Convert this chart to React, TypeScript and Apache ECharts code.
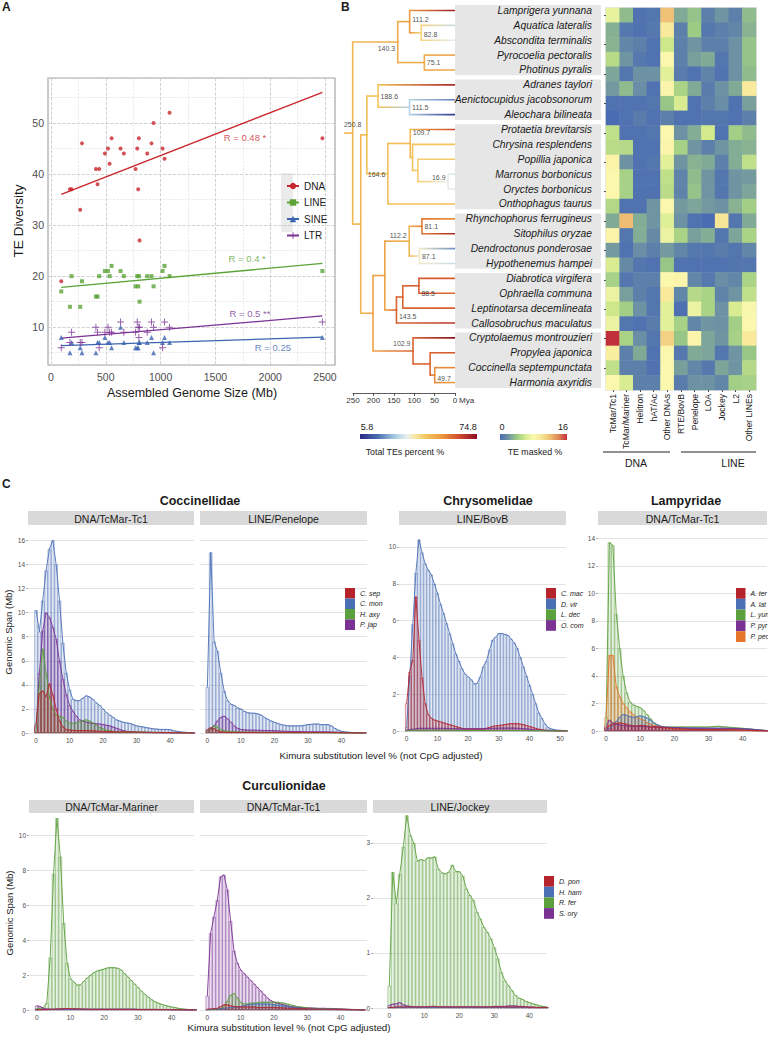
import React, { useEffect, useRef } from "react";
import * as echarts from "echarts";

const FONT = '"Liberation Sans", Arial, Helvetica, sans-serif';

// ================= Panel A : TE diversity vs genome size =================
const genomeSize = [94, 173, 188, 267, 283, 410, 425, 440, 492, 520, 535, 553, 635, 665, 772, 787, 796, 802, 808, 878, 917, 936, 1018, 1036, 1082, 2476];
const dnaDiversity = [19, 37, 37, 33, 46, 41, 38, 41, 44, 45, 42, 47, 45, 44, 41, 45, 37, 47, 27, 44, 46, 50, 45, 43, 52, 47];
const lineDiversity = [17, 14, 20, 14, 19, 16, 16, 20, 21, 21, 20, 22, 21, 20, 18, 20, 18, 20, 15, 20, 20, 18, 21, 22, 20, 21];
const sineDiversity = [8, 5, 7, 6, 5, 5, 7, 7, 8, 7, 7, 6, 10, 7, 6, 6, 6, 7, 7, 7, 8, 5, 7, 8, 7, 8];
const ltrDiversity = [6, 7, 9, 7, 7, 10, 9, 6, 9, 10, 9, 9, 11, 9, 9, 11, 10, 8, 10, 9, 11, 10, 6, 11, 10, 11];
const fitX = [94, 2476];
const dnaFit = [36.0, 56.0];
const lineFit = [17.8, 22.5];
const sineFit = [6.4, 8.05];
const ltrFit = [7.85, 12.2];
const corrLabels = ["R = 0.48 *", "R = 0.4 *", "R = 0.25", "R = 0.5 **"];

// ================= Panel B : tree + heatmap =================
const species = [
  "Lamprigera yunnana", "Aquatica lateralis", "Abscondita terminalis", "Pyrocoelia pectoralis", "Photinus pyralis",
  "Adranes taylori", "Aenictocupidus jacobsonorum", "Aleochara bilineata",
  "Protaetia brevitarsis", "Chrysina resplendens", "Popillia japonica", "Marronus borbonicus", "Oryctes borbonicus", "Onthophagus taurus",
  "Rhynchophorus ferrugineus", "Sitophilus oryzae", "Dendroctonus ponderosae", "Hypothenemus hampei",
  "Diabrotica virgifera", "Ophraella communa", "Leptinotarsa decemlineata", "Callosobruchus maculatus",
  "Cryptolaemus montrouzieri", "Propylea japonica", "Coccinella septempunctata", "Harmonia axyridis",
];
const speciesTE = [72, 30, 33, 52, 50, 70, 18, 8, 65, 45, 44, 31, 33, 47, 55, 70, 20, 30, 62, 60, 62, 68, 74, 62, 56, 53];
const speciesParent = [
  "n111.2", "n82.8", "n82.8", "n75.1", "n75.1",
  "n188.6", "n111.5", "n111.5",
  "n109.7", "nChr", "nPop", "n16.9", "n16.9", "n164.6",
  "n81.1", "n81.1", "n87.1", "n87.1",
  "n88.5", "n88.5", "n128", "n143.5",
  "n102.9", "n61", "n49.7", "n49.7",
];
// [node, parent, age (Mya), total TE %]
const internalNodes: [string, string | null, number, number][] = [
  ["root", null, 250.8, 48],
  ["n140.3", "root", 140.3, 50],
  ["n111.2", "n140.3", 111.2, 53],
  ["n82.8", "n111.2", 82.8, 42],
  ["n75.1", "n140.3", 75.1, 50],
  ["nY", "root", 231, 48],
  ["nX", "nY", 216, 46],
  ["n188.6", "nX", 188.6, 45],
  ["n111.5", "n188.6", 111.5, 28],
  ["n164.6", "nX", 164.6, 46],
  ["n109.7", "n164.6", 109.7, 47],
  ["nChr", "n109.7", 104, 45],
  ["nPop", "nChr", 91, 43],
  ["n16.9", "nPop", 16.9, 34],
  ["nZ", "nY", 201, 52],
  ["nW", "nZ", 172, 52],
  ["n112.2", "nW", 112.2, 48],
  ["n81.1", "n112.2", 81.1, 58],
  ["n87.1", "n112.2", 87.1, 36],
  ["n143.5", "nW", 143.5, 61],
  ["n128", "n143.5", 128, 61],
  ["n88.5", "n128", 88.5, 62],
  ["n102.9", "nZ", 102.9, 61],
  ["n61", "n102.9", 61, 61],
  ["n49.7", "n61", 49.7, 56],
];
const rootEdgeMya = 21;
const familyBoxes: [number, number][] = [[0, 4], [5, 7], [8, 13], [14, 17], [18, 21], [22, 25]];
const heatColumns = ["TcMar/Tc1", "TcMar/Mariner", "Helitron", "hAT/Ac", "Other DNAs", "RTE/BovB", "Penelope", "LOA", "Jockey", "L2", "Other LINEs"];
// TE masked % (rows follow species order, -1 = missing)
const teMasked = [
  [7, 3.4, 0.3, 0.5, 11.8, 2.8, 3.7, 1.0, 2.0, 1.0, 3.4],
  [3.0, 0.6, 0.3, 0.6, 9.5, 1.0, 4.0, 0.6, 1.0, 1.3, 3.1],
  [3.1, 1.3, 1.0, 0.3, 5.8, 1.0, 2.0, 1.0, 1.0, 1.9, 3.7],
  [5.0, 2.0, 0.6, 0.3, 8.2, 1.0, 2.4, 2.8, 0.5, 1.9, 3.7],
  [2.6, 0.5, 1.9, 1.9, 6.8, 0.8, 0.3, 1.2, 0.4, 1.9, 3.4],
  [2.2, 3.4, 1.7, 0.3, 8.4, 4.5, 2.8, 0.8, 1.9, 2.8, 9.6],
  [0.3, 0.3, 0.3, 0.5, 3.8, 6.3, 0.3, 1.0, 1.7, 0.3, 2.4],
  [-1, 0.3, 0.8, 0.3, 1.0, 0.3, 0.3, 0.5, 0.5, 0.3, 1.0],
  [5.3, 0.3, 0.3, 0.5, 8.2, 1.9, 2.9, 6.0, 0.3, 4.2, 3.4],
  [5.1, 4.9, 0.3, 0.3, 8.4, 4.4, 2.0, 1.0, 2.0, 2.9, 3.1],
  [8.6, 1.9, 0.3, 0.5, 6.8, 2.0, 3.1, 2.8, 1.0, 2.9, 5.3],
  [8.2, 4.4, 0.3, 0.3, 5.3, 1.2, 3.4, 2.0, 0.5, 2.0, 2.2],
  [8.2, 4.4, 0.3, 0.3, 5.1, 1.2, 3.7, 2.0, 0.5, 2.0, 2.6],
  [4.8, 0.3, 0.3, 2.0, 8.2, 2.2, 2.6, 2.2, 1.9, 3.1, 4.2],
  [2.8, 12, 2.9, 2.0, 6.6, 1.9, 0.3, -1, 10, 0.5, 2.8],
  [8.6, 0.5, 2.9, 1.5, 7.2, 4.5, 2.4, 2.9, 0.5, 2.6, 4.5],
  [2.2, 0.3, 1.7, 1.0, 2.2, 1.3, 0.6, 0.5, 0.8, 0.5, 1.3],
  [6.3, 1.5, 0.5, 0.3, 3.8, 0.3, 0.3, 0.3, 0.3, 0.5, 0.5],
  [4.4, 0.5, 1.0, 1.0, 8.2, 8.4, 1.3, 0.6, 1.7, 1.3, 4.5],
  [7.2, 2.4, 1.0, 0.5, 9.6, 1.3, 4.9, 4.5, 1.2, 2.0, 5.3],
  [5.8, 4.2, 1.9, 0.5, 6.8, 0.2, 7.2, 4.5, 1.9, 6.3, 7.8],
  [7.2, 0.5, 0.3, 0.8, 6.8, 4.4, 1.3, 2.0, 1.9, 4.2, 8.2],
  [16, 4.5, 1.7, 0.5, 11, 3.8, 8.4, 2.6, 2.0, 4.4, 9.6],
  [9.2, 1.0, 2.8, 0.3, 8.2, 0.6, 2.8, 2.6, 0.5, 2.0, 3.8],
  [5.3, 1.0, 1.0, 0.3, 8.2, 2.4, 1.3, 0.6, 2.6, 2.0, 4.9],
  [8.2, 6.3, 1.0, 1.0, 8.2, 0.8, 1.9, 1.9, 1.3, 4.2, 4.4],
];
const totalTERange = [5.8, 74.8];
const maskedRange = [0, 16];

// ================= Panel C : repeat landscapes (Kimura bins from 0) =================
const coccTc1_Csep = [0.7, 3.3, 3.5, 3.0, 4.1, 3.2, 2, 1, 0.5, 0.3, 0.25, 0.22, 0.2, 0.2, 0.2, 0.2, 0.2, 0.18, 0.16, 0.15, 0.14, 0.13, 0.12, 0.11, 0.1, 0.1, 0.1, 0.09, 0.09, 0.08, 0.08, 0.07, 0.07, 0.06, 0.06, 0.05, 0.05, 0.05, 0.04, 0.04, 0.04, 0.03, 0.03, 0.02, 0.02, 0.02, 0.01, 0.01];
const coccTc1_Cmon = [10.2, 8.4, 11, 13.5, 15.3, 16, 14, 11, 7.5, 5, 3.6, 2.8, 2.7, 2.7, 2.9, 3.1, 3.0, 2.8, 2.5, 2.3, 2.0, 1.7, 1.5, 1.3, 1.1, 1.0, 0.9, 0.85, 0.8, 0.7, 0.6, 0.55, 0.5, 0.45, 0.4, 0.35, 0.33, 0.3, 0.3, 0.3, 0.28, 0.2, 0.15, 0.1, 0.07, 0.05, 0.03, 0.02];
const coccTc1_Haxy = [0.2, 4, 7, 5, 3, 2, 1.5, 1.4, 1.3, 1.0, 0.85, 0.8, 0.85, 0.95, 1.05, 1.1, 1.0, 0.85, 0.65, 0.45, 0.35, 0.25, 0.2, 0.15, 0.12, 0.1, 0.1, 0.1, 0.1, 0.09, 0.08, 0.08, 0.07, 0.07, 0.06, 0.06, 0.05, 0.05, 0.05, 0.04, 0.04, 0.03, 0.03, 0.02, 0.02, 0.02, 0.01, 0.01];
const coccTc1_Pjap = [0.5, 5, 8.5, 10, 9.6, 8.8, 7.8, 6, 4.5, 3.2, 2.3, 1.8, 1.4, 1.1, 1.0, 0.9, 0.85, 0.8, 0.78, 0.75, 0.7, 0.65, 0.6, 0.5, 0.4, 0.3, 0.2, 0.15, 0.12, 0.1, 0.08, 0.07, 0.06, 0.05, 0.05, 0.04, 0.04, 0.03, 0.03, 0.03, 0.02, 0.02, 0.02, 0.01, 0.01, 0.01, 0.01, 0.01];

const coccPen_Csep = [0.3, 0.45, 0.35, 0.2, 0.1, 0.08, 0.06, 0.05, 0.05, 0.05, 0.05, 0.05, 0.05, 0.05, 0.05, 0.05, 0.05, 0.05, 0.05, 0.05, 0.05, 0.05, 0.05, 0.05, 0.05, 0.05, 0.05, 0.05, 0.05, 0.05, 0.05, 0.05, 0.05, 0.05, 0.05, 0.05, 0.05, 0.05, 0.04, 0.03, 0.03, 0.02, 0.02, 0.02, 0.01, 0.01, 0.01, 0.01];
const coccPen_Cmon = [3.8, 15, 7.6, 6.8, 5, 3.5, 2.7, 2.4, 2.3, 2.1, 2.0, 1.8, 1.7, 1.65, 1.65, 1.6, 1.5, 1.3, 1.15, 1.0, 0.9, 0.8, 0.7, 0.65, 0.6, 0.6, 0.6, 0.6, 0.6, 0.65, 0.7, 0.72, 0.75, 0.75, 0.7, 0.7, 0.7, 0.6, 0.4, 0.25, 0.15, 0.1, 0.07, 0.05, 0.03, 0.03, 0.03, 0.03];
const coccPen_Haxy = [0.2, 0.4, 0.6, 0.5, 0.3, 0.2, 0.15, 0.12, 0.1, 0.1, 0.09, 0.08, 0.08, 0.07, 0.07, 0.06, 0.06, 0.05, 0.05, 0.05, 0.05, 0.04, 0.04, 0.04, 0.04, 0.03, 0.03, 0.03, 0.03, 0.03, 0.03, 0.03, 0.03, 0.03, 0.03, 0.03, 0.02, 0.02, 0.02, 0.02, 0.02, 0.02, 0.01, 0.01, 0.01, 0.01, 0.01, 0.01];
const coccPen_Pjap = [0.2, 0.3, 0.6, 1.0, 1.3, 1.4, 1.2, 0.9, 0.6, 0.4, 0.3, 0.27, 0.25, 0.25, 0.24, 0.23, 0.22, 0.21, 0.2, 0.2, 0.2, 0.18, 0.16, 0.15, 0.14, 0.13, 0.12, 0.12, 0.11, 0.11, 0.1, 0.1, 0.1, 0.1, 0.1, 0.1, 0.09, 0.08, 0.07, 0.06, 0.05, 0.04, 0.03, 0.03, 0.02, 0.02, 0.02, 0.02];

const chrBovB_Cmac = [1.5, 3.2, 3.85, 7.3, 4.95, 2.9, 1.5, 0.9, 0.7, 0.6, 0.55, 0.5, 0.45, 0.4, 0.35, 0.3, 0.25, 0.2, 0.15, 0.12, 0.12, 0.12, 0.12, 0.12, 0.12, 0.12, 0.15, 0.2, 0.25, 0.28, 0.3, 0.32, 0.35, 0.38, 0.4, 0.4, 0.4, 0.38, 0.35, 0.3, 0.25, 0.2, 0.15, 0.1, 0.08, 0.05, 0.04, 0.03, 0.02, 0.02, 0.01, 0.01, 0.01];
const chrBovB_Dvir = [0.2, 3, 5.8, 8.6, 10.4, 9.7, 9.1, 8.75, 8.5, 8.0, 7.5, 6.9, 6.4, 5.85, 5.3, 4.75, 4.2, 3.8, 3.4, 3.1, 2.95, 2.8, 2.55, 2.6, 2.95, 3.5, 3.8, 4.4, 4.95, 5.1, 5.3, 5.3, 5.25, 5.2, 5.0, 4.8, 4.5, 4.0, 3.5, 3.0, 2.5, 2.0, 1.5, 1.0, 0.7, 0.4, 0.2, 0.12, 0.08, 0.05, 0.04, 0.03, 0.02];
const chrBovB_Ldec = [0.02, 0.03, 0.04, 0.04, 0.04, 0.04, 0.04, 0.04, 0.04, 0.04, 0.04, 0.04, 0.04, 0.04, 0.04, 0.04, 0.03, 0.03, 0.03, 0.03, 0.03, 0.03, 0.03, 0.03, 0.03, 0.03, 0.03, 0.03, 0.03, 0.03, 0.03, 0.03, 0.03, 0.03, 0.03, 0.03, 0.03, 0.03, 0.03, 0.03, 0.02, 0.02, 0.02, 0.02, 0.02, 0.01, 0.01, 0.01, 0.01, 0.01, 0.01, 0.01, 0.01];
const chrBovB_Ocom = [0.05, 0.08, 0.1, 0.12, 0.15, 0.15, 0.15, 0.15, 0.15, 0.15, 0.15, 0.15, 0.15, 0.14, 0.14, 0.13, 0.13, 0.12, 0.12, 0.12, 0.12, 0.12, 0.12, 0.12, 0.12, 0.12, 0.13, 0.14, 0.15, 0.15, 0.16, 0.16, 0.16, 0.16, 0.16, 0.16, 0.15, 0.14, 0.13, 0.12, 0.1, 0.08, 0.06, 0.05, 0.04, 0.03, 0.02, 0.02, 0.01, 0.01, 0.01, 0.01, 0.01];

const lamTc1_Ater = [0.2, 0.4, 0.5, 0.55, 0.6, 0.55, 0.5, 0.42, 0.38, 0.36, 0.4, 0.4, 0.36, 0.32, 0.3, 0.28, 0.26, 0.24, 0.22, 0.2, 0.18, 0.16, 0.15, 0.14, 0.13, 0.12, 0.12, 0.11, 0.11, 0.1, 0.1, 0.1, 0.1, 0.1, 0.1, 0.1, 0.1, 0.09, 0.09, 0.08, 0.07, 0.06, 0.05, 0.04, 0.03, 0.03, 0.02, 0.02];
const lamTc1_Alat = [0.1, 0.2, 0.4, 0.7, 1.0, 1.2, 1.15, 1.05, 1.0, 1.05, 1.1, 1.05, 0.95, 0.8, 0.6, 0.45, 0.35, 0.3, 0.27, 0.25, 0.25, 0.25, 0.24, 0.24, 0.23, 0.23, 0.22, 0.22, 0.22, 0.21, 0.21, 0.2, 0.2, 0.2, 0.2, 0.2, 0.2, 0.2, 0.19, 0.18, 0.17, 0.16, 0.15, 0.13, 0.1, 0.08, 0.05, 0.03];
const lamTc1_Lyun = [0.5, 13.7, 13.5, 8.5, 6, 4, 2.8, 2.1, 1.9, 1.8, 1.7, 1.5, 1.2, 0.9, 0.6, 0.45, 0.35, 0.3, 0.3, 0.3, 0.3, 0.3, 0.3, 0.3, 0.3, 0.3, 0.3, 0.3, 0.3, 0.3, 0.3, 0.32, 0.34, 0.35, 0.32, 0.3, 0.28, 0.26, 0.24, 0.22, 0.2, 0.18, 0.15, 0.12, 0.1, 0.08, 0.06, 0.04];
const lamTc1_Ppyr = [0.3, 0.8, 0.6, 0.5, 0.45, 0.4, 0.38, 0.36, 0.35, 0.35, 0.35, 0.33, 0.32, 0.31, 0.3, 0.3, 0.3, 0.28, 0.27, 0.26, 0.25, 0.24, 0.22, 0.21, 0.2, 0.2, 0.2, 0.2, 0.2, 0.2, 0.2, 0.2, 0.2, 0.2, 0.2, 0.2, 0.19, 0.18, 0.17, 0.16, 0.15, 0.13, 0.12, 0.1, 0.08, 0.06, 0.04, 0.03];
const lamTc1_Ppec = [1.0, 5.5, 5.5, 3.2, 2.5, 2, 1.7, 1.4, 1.2, 1.0, 0.9, 0.8, 0.6, 0.5, 0.4, 0.35, 0.3, 0.25, 0.2, 0.18, 0.16, 0.15, 0.14, 0.13, 0.12, 0.12, 0.11, 0.1, 0.1, 0.1, 0.1, 0.1, 0.1, 0.1, 0.1, 0.09, 0.08, 0.08, 0.07, 0.06, 0.05, 0.05, 0.04, 0.03, 0.03, 0.02, 0.02, 0.01];

const curMar_Dpon = [0.02, 0.02, 0.03, 0.03, 0.04, 0.05, 0.06, 0.07, 0.08, 0.08, 0.08, 0.08, 0.07, 0.06, 0.05, 0.05, 0.04, 0.04, 0.04, 0.04, 0.04, 0.04, 0.04, 0.04, 0.04, 0.04, 0.04, 0.04, 0.04, 0.04, 0.03, 0.03, 0.03, 0.03, 0.03, 0.03, 0.03, 0.03, 0.02, 0.02, 0.02, 0.02, 0.02, 0.01, 0.01, 0.01, 0.01, 0.01];
const curMar_Hham = [0.02, 0.03, 0.03, 0.04, 0.04, 0.04, 0.05, 0.05, 0.05, 0.05, 0.05, 0.05, 0.05, 0.05, 0.05, 0.05, 0.05, 0.05, 0.05, 0.05, 0.05, 0.05, 0.05, 0.05, 0.05, 0.05, 0.05, 0.05, 0.05, 0.05, 0.04, 0.04, 0.04, 0.04, 0.04, 0.04, 0.03, 0.03, 0.03, 0.03, 0.02, 0.02, 0.02, 0.02, 0.01, 0.01, 0.01, 0.01];
const curMar_Rfer = [0.1, 0.1, 0.15, 0.4, 3, 7.8, 11, 8.8, 5, 2.7, 1.8, 1.6, 1.43, 1.45, 1.65, 1.85, 2.0, 2.15, 2.25, 2.3, 2.35, 2.42, 2.43, 2.43, 2.4, 2.3, 2.1, 1.9, 1.7, 1.5, 1.3, 1.1, 0.9, 0.75, 0.6, 0.48, 0.4, 0.33, 0.27, 0.22, 0.18, 0.14, 0.1, 0.07, 0.05, 0.03, 0.02, 0.02];
const curMar_Sory = [0.25, 0.2, 0.1, 0.06, 0.05, 0.04, 0.04, 0.04, 0.04, 0.04, 0.04, 0.04, 0.04, 0.04, 0.04, 0.04, 0.04, 0.04, 0.04, 0.04, 0.04, 0.04, 0.04, 0.04, 0.04, 0.04, 0.04, 0.04, 0.04, 0.04, 0.03, 0.03, 0.03, 0.03, 0.03, 0.03, 0.03, 0.03, 0.03, 0.03, 0.02, 0.02, 0.02, 0.02, 0.02, 0.01, 0.01, 0.01];

const curTc1_Dpon = [0.05, 0.06, 0.08, 0.1, 0.2, 0.3, 0.3, 0.25, 0.2, 0.18, 0.18, 0.18, 0.18, 0.18, 0.18, 0.15, 0.15, 0.15, 0.15, 0.15, 0.15, 0.14, 0.13, 0.12, 0.11, 0.1, 0.1, 0.09, 0.08, 0.08, 0.07, 0.06, 0.06, 0.05, 0.05, 0.05, 0.04, 0.04, 0.04, 0.03, 0.03, 0.03, 0.02, 0.02, 0.02, 0.01, 0.01, 0.01];
const curTc1_Hham = [0.03, 0.04, 0.05, 0.06, 0.08, 0.1, 0.12, 0.14, 0.16, 0.18, 0.2, 0.25, 0.3, 0.32, 0.35, 0.35, 0.35, 0.35, 0.35, 0.33, 0.3, 0.28, 0.25, 0.22, 0.2, 0.17, 0.15, 0.12, 0.1, 0.09, 0.08, 0.07, 0.06, 0.06, 0.05, 0.05, 0.04, 0.04, 0.04, 0.03, 0.03, 0.03, 0.02, 0.02, 0.02, 0.01, 0.01, 0.01];
const curTc1_Rfer = [0.03, 0.03, 0.04, 0.05, 0.1, 0.2, 0.5, 0.85, 0.95, 0.7, 0.45, 0.35, 0.35, 0.4, 0.4, 0.42, 0.45, 0.45, 0.45, 0.45, 0.45, 0.45, 0.42, 0.4, 0.35, 0.3, 0.25, 0.2, 0.18, 0.15, 0.12, 0.1, 0.1, 0.09, 0.08, 0.07, 0.06, 0.06, 0.05, 0.05, 0.04, 0.04, 0.03, 0.03, 0.02, 0.02, 0.02, 0.01];
const curTc1_Sory = [0.8, 4.4, 5.35, 6.3, 7.65, 7.75, 6.9, 5.1, 3.4, 2.7, 2.3, 2.1, 1.9, 1.7, 1.5, 1.3, 1.1, 0.9, 0.7, 0.55, 0.45, 0.4, 0.35, 0.3, 0.25, 0.2, 0.18, 0.16, 0.15, 0.14, 0.13, 0.12, 0.11, 0.1, 0.1, 0.1, 0.09, 0.09, 0.08, 0.08, 0.07, 0.06, 0.05, 0.04, 0.03, 0.03, 0.02, 0.02];

const curJoc_Dpon = [0.01, 0.01, 0.02, 0.02, 0.02, 0.02, 0.02, 0.02, 0.02, 0.02, 0.02, 0.02, 0.03, 0.03, 0.02, 0.02, 0.02, 0.02, 0.02, 0.02, 0.02, 0.02, 0.02, 0.02, 0.02, 0.02, 0.02, 0.02, 0.02, 0.02, 0.02, 0.02, 0.02, 0.02, 0.02, 0.02, 0.02, 0.02, 0.02, 0.02, 0.01, 0.01, 0.01, 0.01, 0.01, 0.01];
const curJoc_Hham = [0.01, 0.01, 0.01, 0.01, 0.01, 0.01, 0.01, 0.01, 0.01, 0.01, 0.01, 0.01, 0.01, 0.01, 0.01, 0.01, 0.01, 0.01, 0.01, 0.01, 0.01, 0.01, 0.01, 0.01, 0.01, 0.01, 0.01, 0.01, 0.01, 0.01, 0.01, 0.01, 0.01, 0.01, 0.01, 0.01, 0.01, 0.01, 0.01, 0.01, 0.01, 0.01, 0.01, 0.01, 0.01, 0.01];
const curJoc_Rfer = [0.4, 2.47, 1.9, 2.44, 2.93, 3.5, 3.14, 3.0, 2.67, 2.7, 2.68, 2.73, 2.73, 2.75, 2.53, 2.46, 2.44, 2.47, 2.6, 2.48, 2.48, 2.4, 2.17, 2.05, 1.96, 1.75, 1.62, 1.47, 1.38, 1.26, 1.1, 0.9, 0.65, 0.5, 0.41, 0.32, 0.23, 0.18, 0.16, 0.12, 0.1, 0.08, 0.06, 0.04, 0.03, 0.02];
const curJoc_Sory = [0.05, 0.07, 0.08, 0.1, 0.06, 0.04, 0.03, 0.02, 0.02, 0.02, 0.02, 0.02, 0.02, 0.02, 0.02, 0.02, 0.02, 0.02, 0.02, 0.02, 0.02, 0.02, 0.02, 0.02, 0.02, 0.02, 0.02, 0.02, 0.02, 0.02, 0.03, 0.03, 0.03, 0.03, 0.04, 0.04, 0.04, 0.03, 0.03, 0.02, 0.02, 0.02, 0.01, 0.01, 0.01, 0.01];

// ================= colours / helpers =================
const A_COL: Record<string, string> = { DNA: "#c8252c", LINE: "#5aa336", SINE: "#3b64b0", LTR: "#7b3294" };
const C_RED = "#b7232b", C_BLUE = "#4b6fb5", C_GREEN = "#5c9f3d", C_PURPLE = "#7a3393", C_ORANGE = "#e6752a";
const TE_STOPS: [number, string][] = [
  [0, "#2a2a86"], [0.15, "#4a6db2"], [0.3, "#a8cce3"], [0.4, "#e9eff0"], [0.47, "#f7e8a4"],
  [0.57, "#f3c35a"], [0.7, "#ec983e"], [0.84, "#d24f2d"], [1, "#8c0c23"],
];
const HEAT_COLORS = ["#4a6cb3", "#6f94a2", "#9ccb84", "#d3ea8c", "#fbf9b0", "#f7e596", "#efbd72", "#e08858", "#c0303c"];
const PLUS = "path://M4.3,0H5.7V4.3H10V5.7H5.7V10H4.3V5.7H0V4.3H4.3Z";

function hexRgb(h: string) {
  const n = parseInt(h.slice(1), 16);
  return [(n >> 16) & 255, (n >> 8) & 255, n & 255];
}
function rgba(h: string, a: number) {
  const [r, g, b] = hexRgb(h);
  return `rgba(${r},${g},${b},${a})`;
}
function rampColor(stops: [number, string][], t: number) {
  t = Math.max(0, Math.min(1, t));
  for (let i = 1; i < stops.length; i++) {
    if (t <= stops[i][0]) {
      const [t0, c0] = stops[i - 1];
      const [t1, c1] = stops[i];
      const f = (t - t0) / (t1 - t0 || 1);
      const a = hexRgb(c0), b = hexRgb(c1);
      return `rgb(${Math.round(a[0] + (b[0] - a[0]) * f)},${Math.round(a[1] + (b[1] - a[1]) * f)},${Math.round(a[2] + (b[2] - a[2]) * f)})`;
    }
  }
  return stops[stops.length - 1][1];
}
const teColor = (v: number) => rampColor(TE_STOPS, (v - totalTERange[0]) / (totalTERange[1] - totalTERange[0]));

function txt(text: string, x: number, y: number, o: any = {}) {
  const align = o.align || "left";
  const va = o.va || "middle";
  return {
    type: "text", x, y, rotation: o.rot || 0, silent: true, z: o.z || 10,
    style: {
      text, fill: o.color || "#1a1a1a", fontSize: o.size || 10, fontFamily: FONT,
      fontWeight: o.weight || "normal", fontStyle: o.style || "normal",
      align, textAlign: align, verticalAlign: va, textVerticalAlign: va,
    },
  };
}
function rect(x: number, y: number, w: number, h: number, fill: any, z = 0) {
  return { type: "rect", silent: true, z, shape: { x, y, width: w, height: h }, style: { fill } };
}
function seg(x1: number, y1: number, x2: number, y2: number, stroke = "#1a1a1a", w = 1) {
  return { type: "line", silent: true, shape: { x1, y1, x2, y2 }, style: { stroke, lineWidth: w } };
}

// tree layout (ggtree style: internal y = mean of children)
function buildTree() {
  const y: Record<string, number> = {};
  const age: Record<string, number> = {};
  const te: Record<string, number> = {};
  const children: Record<string, string[]> = {};
  species.forEach((s, i) => {
    y[s] = i; age[s] = 0; te[s] = speciesTE[i];
    (children[speciesParent[i]] = children[speciesParent[i]] || []).push(s);
  });
  internalNodes.forEach(([n, p, a, t]) => {
    age[n] = a; te[n] = t;
    if (p) (children[p] = children[p] || []).push(n);
  });
  const getY = (n: string): number => {
    if (y[n] !== undefined) return y[n];
    const ch = children[n];
    const v = ch.reduce((s, c) => s + getY(c), 0) / ch.length;
    y[n] = v;
    return v;
  };
  const edges: number[][] = [];
  species.forEach((s, i) => {
    const p = speciesParent[i];
    edges.push([0, getY(s), age[p], getY(p), te[s], te[p]]);
  });
  internalNodes.forEach(([n, p, a, t]) => {
    if (p) edges.push([a, getY(n), age[p], getY(p), t, te[p]]);
    else edges.push([a, getY(n), a + rootEdgeMya, getY(n), t, t]);
  });
  return { edges, getY, age };
}

// label placement for node ages (style only)
const nodeLabelPlacement: [string, string, number][] = [
  ["root", "inside", -9], ["n140.3", "left", 6], ["n111.2", "right", -2], ["n82.8", "right", 2], ["n75.1", "right", 0],
  ["n188.6", "right", 0], ["n111.5", "right", 0], ["n164.6", "left", 1], ["n109.7", "right", -11], ["n16.9", "left", -4],
  ["n112.2", "left", -6], ["n81.1", "right", 0], ["n87.1", "right", 0], ["n88.5", "right", 8], ["n143.5", "right", 7],
  ["n102.9", "left", -7], ["n49.7", "right", 3],
];

function buildOption() {
  const grids: any[] = [];
  const xAxes: any[] = [];
  const yAxes: any[] = [];
  const series: any[] = [];
  const legends: any[] = [];
  const g: any[] = [];
  const tickLabel = { fontFamily: FONT, color: "#4d4d4d" };
  const plain = (v: number) => String(v);

  // ---------------- Panel A ----------------
  grids.push({ left: 48, top: 78, width: 287, height: 287, show: true, borderColor: "#a8a8a8", borderWidth: 1.2, outerBoundsMode: "none" });
  const aSplit = { show: true, lineStyle: { type: "dashed", color: "#c6c6c6", width: 0.8 } };
  const aMinor = { show: true, lineStyle: { type: "dashed", color: "#dedede", width: 0.6 } };
  xAxes.push({
    gridIndex: 0, type: "value", min: -27, max: 2591,
    axisLine: { show: false, onZero: false }, axisTick: { show: false },
    axisLabel: { ...tickLabel, fontSize: 10.5, margin: 6, showMinLabel: false, showMaxLabel: false, formatter: plain },
    splitLine: aSplit, minorTick: { show: false, splitNumber: 2 }, minorSplitLine: aMinor,
  });
  yAxes.push({
    gridIndex: 0, type: "value", min: 2.6, max: 58.8,
    axisLine: { show: false, onZero: false }, axisTick: { show: false },
    axisLabel: { ...tickLabel, fontSize: 10.5, margin: 4, showMinLabel: false, showMaxLabel: false, formatter: plain },
    splitLine: aSplit, minorTick: { show: false, splitNumber: 2 }, minorSplitLine: aMinor,
  });
  const aGroups: [string, number[], number[], string, number][] = [
    ["DNA", dnaDiversity, dnaFit, "circle", 4],
    ["LINE", lineDiversity, lineFit, "rect", 4],
    ["SINE", sineDiversity, sineFit, "triangle", 5],
    ["LTR", ltrDiversity, ltrFit, PLUS, 7],
  ];
  aGroups.forEach(([name, vals, fit, sym, size]) => {
    series.push({
      type: "line", name, xAxisIndex: 0, yAxisIndex: 0, data: fitX.map((x, i) => [x, fit[i]]),
      symbol: sym, symbolSize: size, showSymbol: false, lineStyle: { color: A_COL[name], width: 1.3 },
      itemStyle: { color: A_COL[name] }, z: 3, silent: true,
    });
  });
  aGroups.forEach(([name, vals, fit, sym, size]) => {
    series.push({
      type: "scatter", name, xAxisIndex: 0, yAxisIndex: 0, data: genomeSize.map((x, i) => [x, vals[i]]),
      symbol: sym, symbolSize: size, itemStyle: { color: A_COL[name] }, z: 4, silent: true,
    });
  });
  const corrAt = [[1770, 47.1, "DNA"], [1790, 23.4, "LINE"], [2025, 6.0, "SINE"], [1815, 12.6, "LTR"]];
  series.push({
    type: "scatter", xAxisIndex: 0, yAxisIndex: 0, symbolSize: 1, itemStyle: { color: "transparent" }, silent: true, z: 5,
    data: corrAt.map((c, i) => ({
      value: [c[0], c[1]],
      label: { show: true, position: "inside", formatter: corrLabels[i], color: A_COL[c[2] as string], fontSize: 9.5, fontFamily: FONT },
    })),
  });
  legends.push({
    left: 281, top: 176, orient: "vertical", itemWidth: 12, itemHeight: 8, itemGap: 6.5, selectedMode: false,
    data: ["DNA", "LINE", "SINE", "LTR"], textStyle: { fontSize: 10, fontFamily: FONT, color: "#1a1a1a" },
  });
  g.push(rect(281, 173, 12, 59, "#ebebeb", 0));
  g.push(txt("A", 2, 7, { weight: "bold", size: 12 }));
  g.push(txt("TE Diversity", 18, 221, { rot: Math.PI / 2, align: "center", size: 13.5, color: "#1a1a1a" }));
  g.push(txt("Assembled Genome Size (Mb)", 192, 393, { align: "center", size: 12.5 }));

  // ---------------- Panel B : tree ----------------
  const tree = buildTree();
  grids.push({ left: 353, top: 3, width: 102, height: 387, outerBoundsMode: "none" });
  xAxes.push({
    gridIndex: 1, type: "value", min: 0, max: 250, interval: 50, inverse: true, offset: 3, position: "bottom",
    axisLine: { show: true, onZero: false, lineStyle: { color: "#333", width: 0.8 } },
    axisTick: { show: true, length: 3, lineStyle: { color: "#333", width: 0.8 } },
    axisLabel: { ...tickLabel, color: "#333", fontSize: 8, margin: 3 },
    splitLine: { show: false },
  });
  yAxes.push({ gridIndex: 1, type: "value", min: -0.5, max: 25.5, inverse: true, show: false });
  series.push({
    type: "custom", xAxisIndex: 1, yAxisIndex: 1, data: tree.edges, silent: true, clip: false, z: 3,
    renderItem: (params: any, api: any) => {
      const c = api.coord([api.value(0), api.value(1)]);
      const p = api.coord([api.value(2), api.value(3)]);
      const cc = teColor(api.value(4));
      const pc = teColor(api.value(5));
      return {
        type: "group",
        children: [
          { type: "line", shape: { x1: p[0], y1: p[1], x2: p[0], y2: c[1] }, style: { stroke: pc, lineWidth: 1.6, lineCap: "square" } },
          {
            type: "line", shape: { x1: p[0], y1: c[1], x2: c[0], y2: c[1] },
            style: {
              lineWidth: 1.6,
              stroke: new echarts.graphic.LinearGradient(p[0], c[1], c[0] + 0.01, c[1], [{ offset: 0, color: pc }, { offset: 1, color: cc }], true),
            },
          },
        ],
      };
    },
  });
  series.push({
    type: "scatter", xAxisIndex: 1, yAxisIndex: 1, symbolSize: 1, itemStyle: { color: "transparent" }, silent: true, z: 6, clip: false,
    data: nodeLabelPlacement.map(([n, pos, dy]) => ({
      value: [tree.age[n], tree.getY(n)],
      label: {
        show: true, position: pos, distance: 2, offset: [0, dy], formatter: String(tree.age[n]),
        fontSize: 7, color: "#1a1a1a", fontFamily: FONT,
      },
    })),
  });
  // names + family boxes
  grids.push({ left: 455, top: 3, width: 146, height: 387, outerBoundsMode: "none" });
  xAxes.push({ gridIndex: 2, type: "value", min: 0, max: 1, show: false });
  yAxes.push({
    gridIndex: 2, type: "category", data: species, inverse: true, position: "right",
    axisLine: { show: false, onZero: false }, axisTick: { show: false }, splitLine: { show: false },
    axisLabel: { inside: true, interval: 0, margin: 9, fontSize: 10.3, fontStyle: "italic", color: "#1a1a1a", fontFamily: FONT },
    z: 5,
  });
  series.push({
    type: "custom", xAxisIndex: 2, yAxisIndex: 2, data: familyBoxes, silent: true, z: 1,
    renderItem: (params: any, api: any) => {
      const a = api.coord([0, api.value(0)]);
      const b = api.coord([1, api.value(1)]);
      const h = api.size([0, 1])[1];
      return { type: "rect", shape: { x: a[0], y: a[1] - h * 0.36, width: b[0] - a[0], height: b[1] - a[1] + h * 0.72 }, style: { fill: "#e6e6e6" } };
    },
  });
  // heatmap
  grids.push({ left: 606, top: 8, width: 150, height: 382, show: true, borderColor: "#dedede", borderWidth: 1.5, outerBoundsMode: "none" });
  xAxes.push({
    gridIndex: 3, type: "category", data: heatColumns, position: "bottom",
    axisLine: { show: false, onZero: false }, axisTick: { show: true, length: 2, alignWithLabel: true, lineStyle: { color: "#444" } },
    axisLabel: { rotate: 90, interval: 0, fontSize: 8.6, color: "#222", margin: 4, fontFamily: FONT },
  });
  yAxes.push({
    gridIndex: 3, type: "category", data: species, inverse: true,
    axisLine: { show: false, onZero: false }, axisTick: { show: true, length: 2, alignWithLabel: true, lineStyle: { color: "#444" } },
    axisLabel: { show: false },
  });
  const heatData: number[][] = [];
  teMasked.forEach((row, r) => row.forEach((v, c) => heatData.push([c, r, v])));
  const heatSeriesIndex = series.length;
  series.push({ type: "heatmap", xAxisIndex: 3, yAxisIndex: 3, data: heatData, silent: true, itemStyle: { borderWidth: 0 } });

  g.push(txt("B", 341, 7, { weight: "bold", size: 12 }));
  g.push(txt("Mya", 459, 400, { size: 8, color: "#333" }));
  // colour bars
  const teGrad = new echarts.graphic.LinearGradient(0, 0, 1, 0, TE_STOPS.map(([o, c]) => ({ offset: o, color: c })));
  g.push(rect(360, 434, 117, 5, teGrad, 1));
  g.push(txt(String(totalTERange[0]), 367, 427, { align: "center", size: 9, color: "#222" }));
  g.push(txt(String(totalTERange[1]), 468, 427, { align: "center", size: 9, color: "#222" }));
  g.push(txt("Total TEs percent %", 405, 452, { align: "center", size: 8.8, color: "#222" }));
  const heatGrad = new echarts.graphic.LinearGradient(0, 0, 1, 0, HEAT_COLORS.map((c, i) => ({ offset: i / (HEAT_COLORS.length - 1), color: c })));
  g.push(rect(500, 434, 67, 6, heatGrad, 1));
  g.push(txt(String(maskedRange[0]), 502, 427, { align: "center", size: 9, color: "#222" }));
  g.push(txt(String(maskedRange[1]), 563, 427, { align: "center", size: 9, color: "#222" }));
  g.push(txt("TE masked %", 535, 452, { align: "center", size: 8.8, color: "#222" }));
  g.push(seg(603, 452, 670, 452, "#222", 1));
  g.push(seg(681, 452, 756, 452, "#222", 1));
  g.push(txt("DNA", 636, 463, { align: "center", size: 10.5 }));
  g.push(txt("LINE", 733, 463, { align: "center", size: 10.5 }));

  // ---------------- Panel C ----------------
  const facets: any[] = [
    { left: 28, top: 526, width: 166, height: 207, xMin: -2.4, xMax: 47.15, yMax: 17.2, yInt: 2, yLab: true,
      s: [["C. mon", C_BLUE, coccTc1_Cmon], ["P. jap", C_PURPLE, coccTc1_Pjap], ["H. axy", C_GREEN, coccTc1_Haxy], ["C. sep", C_RED, coccTc1_Csep]] },
    { left: 200, top: 526, width: 167, height: 207, xMin: -2.2, xMax: 47.65, yMax: 17.2, yInt: 2, yLab: false,
      s: [["C. mon", C_BLUE, coccPen_Cmon], ["P. jap", C_PURPLE, coccPen_Pjap], ["H. axy", C_GREEN, coccPen_Haxy], ["C. sep", C_RED, coccPen_Csep]] },
    { left: 399, top: 526, width: 167, height: 205, xMin: -2.5, xMax: 51.9, yMax: 11.14, yInt: 2, yLab: true,
      s: [["D. vir", C_BLUE, chrBovB_Dvir], ["C. mac", C_RED, chrBovB_Cmac], ["O. com", C_PURPLE, chrBovB_Ocom], ["L. dec", C_GREEN, chrBovB_Ldec]] },
    { left: 598, top: 526, width: 169, height: 205, xMin: -2.34, xMax: 47.08, yMax: 14.9, yInt: 2, yLab: true,
      s: [["L. yun", C_GREEN, lamTc1_Lyun], ["P. pec", C_ORANGE, lamTc1_Ppec], ["A. lat", C_BLUE, lamTc1_Alat], ["P. pyr", C_PURPLE, lamTc1_Ppyr], ["A. ter", C_RED, lamTc1_Ater]] },
    { left: 29, top: 813, width: 165, height: 197, xMin: -2.28, xMax: 46.6, yMax: 11.3, yInt: 2, yLab: true,
      s: [["R. fer", C_GREEN, curMar_Rfer], ["S. ory", C_PURPLE, curMar_Sory], ["H. ham", C_BLUE, curMar_Hham], ["D. pon", C_RED, curMar_Dpon]] },
    { left: 200, top: 813, width: 167, height: 197, xMin: -2.19, xMax: 47.9, yMax: 11.3, yInt: 2, yLab: false,
      s: [["S. ory", C_PURPLE, curTc1_Sory], ["R. fer", C_GREEN, curTc1_Rfer], ["H. ham", C_BLUE, curTc1_Hham], ["D. pon", C_RED, curTc1_Dpon]] },
    { left: 373, top: 813, width: 174, height: 195, xMin: -4.66, xMax: 45.05, yMax: 3.545, yInt: 1, yLab: true,
      s: [["R. fer", C_GREEN, curJoc_Rfer], ["S. ory", C_PURPLE, curJoc_Sory], ["H. ham", C_BLUE, curJoc_Hham], ["D. pon", C_RED, curJoc_Dpon]] },
  ];
  facets.forEach((f, k) => {
    const gi = 4 + k;
    grids.push({ left: f.left, top: f.top, width: f.width, height: f.height, outerBoundsMode: "none" });
    xAxes.push({
      gridIndex: gi, type: "value", min: f.xMin, max: f.xMax,
      axisLine: { show: false, onZero: false }, axisTick: { show: false },
      axisLabel: { ...tickLabel, fontSize: 6.5, margin: 4, showMinLabel: false, showMaxLabel: false, formatter: plain },
      splitLine: { show: false },
    });
    yAxes.push({
      gridIndex: gi, type: "value", min: 0, max: f.yMax, interval: f.yInt,
      axisLine: { show: false, onZero: false }, axisTick: { show: f.yLab, length: 2, lineStyle: { color: "#777", width: 0.6 } },
      axisLabel: { show: f.yLab, ...tickLabel, fontSize: 6.5, margin: 3, showMaxLabel: false },
      splitLine: { show: true, showMaxLine: false, lineStyle: { color: "#e4e4e4", width: 1 } },
    });
    const bw = f.width / (f.xMax - f.xMin);
    f.s.forEach(([name, color, vals]: [string, string, number[]]) => {
      const d = vals.map((v, i) => [i, v]);
      series.push({
        type: "bar", name, xAxisIndex: gi, yAxisIndex: gi, data: d, barWidth: bw, barGap: "-100%", silent: true, z: 2,
        itemStyle: { color: rgba(color, 0.16), borderColor: rgba(color, 0.8), borderWidth: 0.55 },
      });
      series.push({
        type: "line", name, xAxisIndex: gi, yAxisIndex: gi, data: d, symbol: "none", silent: true, z: 3,
        lineStyle: { color, width: 0.9 },
      });
    });
  });
  const mkLegend = (left: number, top: number, w: number, h: number, fs: number, items: [string, string][]) => ({
    left, top, orient: "vertical", icon: "rect", itemWidth: w, itemHeight: h, itemGap: 0, selectedMode: false,
    textStyle: { fontSize: fs, fontStyle: "italic", fontFamily: FONT, color: "#1a1a1a" },
    data: items.map(([name, color]) => ({ name, itemStyle: { color, borderWidth: 0, opacity: 1 } })),
  });
  legends.push(mkLegend(340, 583, 10, 10.5, 7, [["C. sep", C_RED], ["C. mon", C_BLUE], ["H. axy", C_GREEN], ["P. jap", C_PURPLE]]));
  legends.push(mkLegend(541, 583, 10, 10.7, 7, [["C. mac", C_RED], ["D. vir", C_BLUE], ["L. dec", C_GREEN], ["O. com", C_PURPLE]]));
  legends.push(mkLegend(731, 583, 9.5, 10.8, 6.8, [["A. ter", C_RED], ["A. lat", C_BLUE], ["L. yun", C_GREEN], ["P. pyr", C_PURPLE], ["P. pec", C_ORANGE]]));
  legends.push(mkLegend(539, 871, 10, 10.7, 7, [["D. pon", C_RED], ["H. ham", C_BLUE], ["R. fer", C_GREEN], ["S. ory", C_PURPLE]]));

  g.push(txt("C", 2, 484, { weight: "bold", size: 12 }));
  g.push(txt("Coccinellidae", 200, 501, { align: "center", size: 12.5, weight: "bold" }));
  g.push(txt("Chrysomelidae", 488, 501, { align: "center", size: 12.5, weight: "bold" }));
  g.push(txt("Lampyridae", 686, 501, { align: "center", size: 12.5, weight: "bold" }));
  g.push(txt("Curculionidae", 284, 786, { align: "center", size: 12.5, weight: "bold" }));
  const strips: [number, number, number, number, string][] = [
    [28, 511, 166, 14, "DNA/TcMar-Tc1"], [200, 511, 167, 14, "LINE/Penelope"], [399, 511, 167, 14, "LINE/BovB"], [598, 511, 169, 14, "DNA/TcMar-Tc1"],
    [29, 800, 165, 13, "DNA/TcMar-Mariner"], [200, 800, 167, 13, "DNA/TcMar-Tc1"], [373, 800, 174, 13, "LINE/Jockey"],
  ];
  strips.forEach(([x, y, w, h, t]) => {
    g.push(rect(x, y, w, h, "#d9d9d9", 0));
    g.push(txt(t, x + w / 2, y + h / 2 + 0.5, { align: "center", size: 10.5, color: "#1a1a1a" }));
  });
  g.push(txt("Genomic Span (Mb)", 8, 632, { rot: Math.PI / 2, align: "center", size: 9.5 }));
  g.push(txt("Genomic Span (Mb)", 9, 913, { rot: Math.PI / 2, align: "center", size: 9.5 }));
  g.push(txt("Kimura substitution level % (not CpG adjusted)", 381, 755, { align: "center", size: 9.8 }));
  g.push(txt("Kimura substitution level % (not CpG adjusted)", 289, 1027, { align: "center", size: 9.8 }));

  return {
    animation: false,
    backgroundColor: "#ffffff",
    textStyle: { fontFamily: FONT },
    grid: grids,
    xAxis: xAxes,
    yAxis: yAxes,
    legend: legends,
    visualMap: [{
      type: "continuous", show: false, min: maskedRange[0], max: maskedRange[1], seriesIndex: heatSeriesIndex, dimension: 2,
      inRange: { color: HEAT_COLORS }, outOfRange: { color: "#e4e4e4" },
    }],
    series,
    graphic: { elements: g },
  };
}

export default function App() {
  const ref = useRef<HTMLDivElement>(null);
  useEffect(() => {
    if (!ref.current) return;
    const chart = echarts.init(ref.current, null, { renderer: "svg" });
    chart.setOption(buildOption() as any);
    return () => chart.dispose();
  }, []);
  return <div ref={ref} style={{ position: "absolute", left: 0, top: 0, width: 768, height: 1042, background: "#fff" }} />;
}
